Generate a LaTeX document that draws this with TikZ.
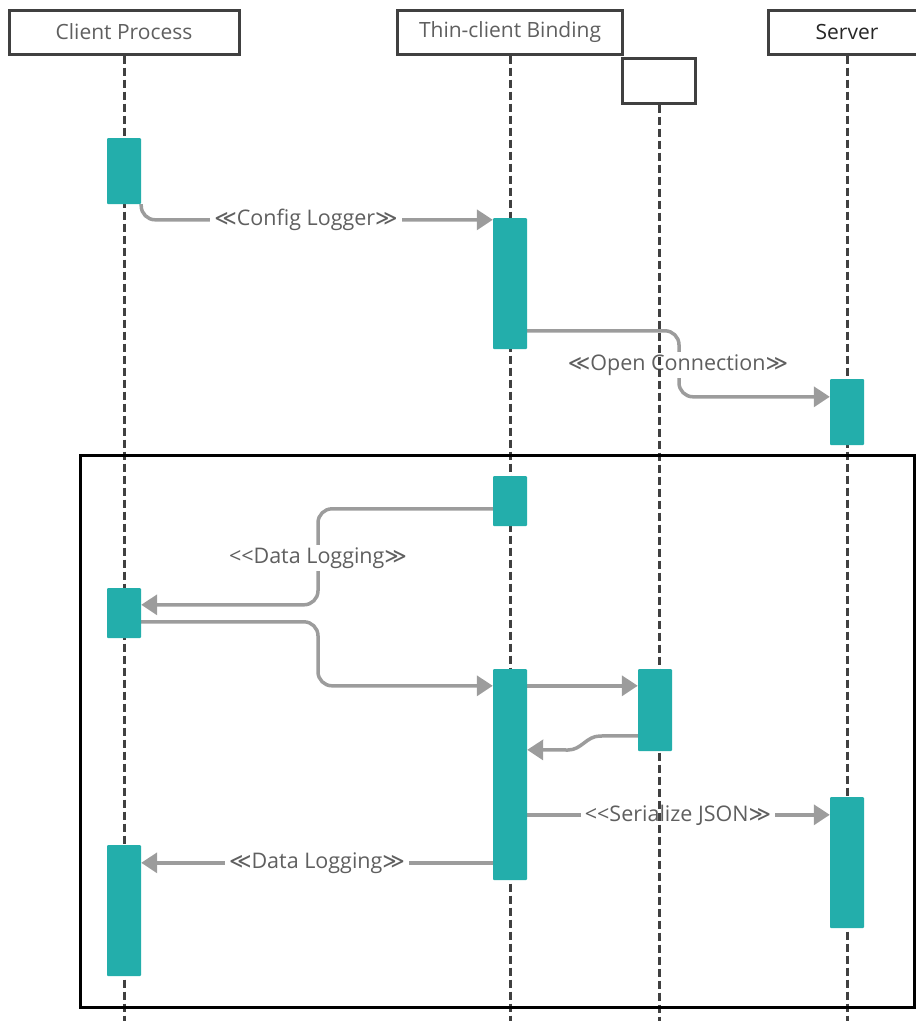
\documentclass[tikz,border=0pt]{standalone}
\usepackage{fontspec}
\setmainfont{Open Sans}
\newfontfamily\dvsfont{DejaVu Sans}
\usetikzlibrary{arrows.meta,calc}
\definecolor{actteal}{HTML}{23AEAB}
\definecolor{msggrey}{HTML}{9C9C9C}
\definecolor{labgrey}{HTML}{5F5F5F}
\definecolor{boxgrey}{HTML}{404040}
\newcommand{\llsym}{{\dvsfont ≪}}
\newcommand{\ggsym}{{\dvsfont ≫}}
\pgfdeclarelayer{back}
\pgfdeclarelayer{mid}
\pgfsetlayers{back,mid,main}

\begin{document}
\begin{tikzpicture}[x=1pt,y=-1pt,
    head/.style={draw=boxgrey, line width=3pt, fill=white, minimum height=44pt, inner sep=0pt,
      font=\fontsize{21}{25}\selectfont, text=labgrey},
    act/.style={fill=actteal, minimum width=34pt, inner sep=0pt, rounded corners=1pt},
    life/.style={draw=boxgrey, line width=3pt, dash pattern=on 8pt off 4pt},
    msg/.style={draw=msggrey, line width=3.5pt, rounded corners=14pt, -{Triangle[length=16pt,width=20pt]}},
    lab/.style={fill=white, text=labgrey, inner xsep=4pt, inner ysep=3pt, font=\fontsize{21.5}{25}\selectfont}]
  \useasboundingbox (0,0) rectangle (916,1021);
  \coordinate (bot) at (0,1021);

  % participants
  \node[head, minimum width=230pt] (cp) at (124,32) {Client Process};
  \node[head, minimum width=225pt] (tb) at (510,32) {Thin-client Binding};
  \node[head, minimum width=73pt, minimum height=45pt] (sb) at (659,80.5) {};
  \node[head, minimum width=158pt, text=black!85] (sv) at (847,32) {Server};

  % activations
  \node[act, minimum height=66pt] (c1) at (124,171) {};
  \node[act, minimum height=131pt] (b2) at (510,283.5) {};
  \node[act, minimum height=66pt] (s3) at (847,412) {};
  \node[act, minimum height=50pt] (b4) at (510,501) {};
  \node[act, minimum height=50pt] (c5) at (124,613) {};
  \node[act, minimum height=211pt] (b6) at (510,774.5) {};
  \node[act, minimum height=82pt] (k7) at (655,710) {};
  \node[act, minimum height=131pt] (s8) at (847,862.5) {};
  \node[act, minimum height=131pt] (c9) at (124,910.5) {};

  \begin{pgfonlayer}{mid}
    % lifelines and frame
    \draw[life] (cp) -- (cp |- bot);
    \draw[life] (tb) -- (tb |- bot);
    \draw[life] (sb) -- (sb |- bot);
    \draw[life] (sv) -- (sv |- bot);
    \draw[line width=3pt] (80,455) rectangle (914,1007);
  \end{pgfonlayer}

  \begin{pgfonlayer}{back}
    % messages
    \draw[msg] (c1.south east) |- ($(b2.north west)+(0,2)$);
    \node[lab] (l1) at (306,220) {\llsym Config Logger\ggsym};
    \draw[msg] ($(b2.north east)+(0,113)$) -| (679,365) |- ($(s3.north west)+(0,18)$);
    \node[lab] (l2) at (678,365) {\llsym Open Connection\ggsym};
    \draw[msg] ($(b4.north west)+(0,33)$) -| (318,558) |- ($(c5.north east)+(0,17)$);
    \node[lab] (l3) at (318,558) {<{}<Data Logging\ggsym};
    \draw[msg] ($(c5.north east)+(0,34)$) -| (318,650) |- ($(b6.north west)+(0,17)$);
    \draw[msg] ($(b6.north east)+(0,17)$) -- ($(k7.north west)+(0,17)$);
    \draw[msg, sharp corners] ($(k7.north west)+(0,67)$) -- (600,736) to[out=180,in=0] (568,750)
      -- ($(b6.north east)+(0,81)$);
    \draw[msg] ($(b6.north east)+(0,146)$) -- ($(s8.north west)+(0,18)$);
    \node[lab] (l4) at (678,815) {<{}<Serialize JSON\ggsym};
    \draw[msg] ($(b6.north west)+(0,194)$) -- ($(c9.north east)+(0,18)$);
    \node[lab] (l5) at (317,863) {\llsym Data Logging\ggsym};
  \end{pgfonlayer}
\end{tikzpicture}
\end{document}
